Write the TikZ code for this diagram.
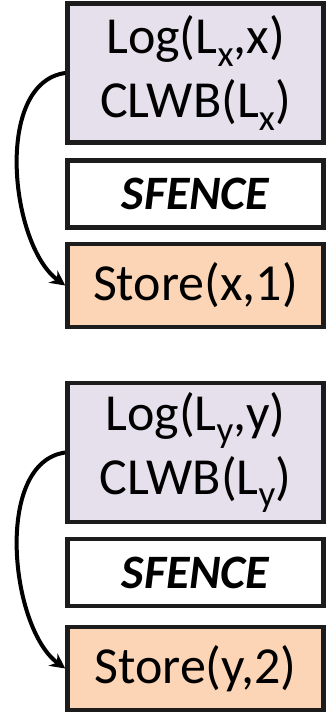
\documentclass[tikz,border=0pt]{standalone}
\usepackage{fontspec}
\setmainfont{Carlito}
\usetikzlibrary{arrows.meta}
\definecolor{logfill}{HTML}{E5E0EC}
\definecolor{storefill}{HTML}{FBD5B5}
\definecolor{boxline}{HTML}{1C1C1C}
% subscript set large and dropped below the baseline
\newcommand{\lowsub}[1]{\raisebox{-0.24em}{\fontsize{37}{37}\selectfont #1}}
\tikzset{
  opbox/.style={draw=boxline, line width=4.5pt, inner sep=0pt, minimum width=256pt,
                align=center, font=\fontsize{52}{64}\selectfont},
  logbox/.style={opbox, fill=logfill, minimum height=139pt},
  fencebox/.style={opbox, fill=white, minimum height=67pt, font=\fontsize{48}{50}\selectfont\bfseries\itshape},
  storebox/.style={opbox, fill=storefill, minimum height=83pt},
  order/.style={-{Stealth[length=15pt,width=15pt]}, line width=4pt, black}
}
\begin{document}
\begin{tikzpicture}[x=1pt,y=1pt]
  \useasboundingbox (0,0) rectangle (327,714);
  % first persist sequence
  \node[logbox]   (log1)   at (195.5,641)   {Log(L\lowsub{x},x)\\CLWB(L\lowsub{x})};
  \node[fencebox] (fence1) at (195.5,520)   {SFENCE};
  \node[storebox] (store1) at (195.5,428.5) {Store(x,1)};
  % second persist sequence
  \node[logbox]   (log2)   at (195.5,261.5) {Log(L\lowsub{y},y)\\CLWB(L\lowsub{y})};
  \node[fencebox] (fence2) at (195.5,141.5) {SFENCE};
  \node[storebox] (store2) at (195.5,45.5)  {Store(y,2)};
  % ordering arrows from log to store
  \draw[order] (log1.west) .. controls +(-72,-10) and +(-55,40) .. (store1.west);
  \draw[order] (log2.west) .. controls +(-72,-10) and +(-55,40) .. (store2.west);
\end{tikzpicture}
\end{document}
